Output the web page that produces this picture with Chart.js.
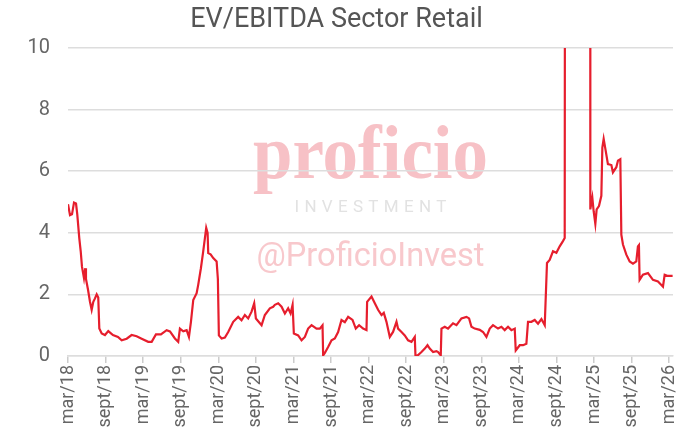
<!DOCTYPE html>
<html lang="en">
<head>
  <meta charset="UTF-8">
  <title>EV/EBITDA Sector Retail</title>
  <script src="https://cdn.jsdelivr.net/npm/chart.js"></script>
  <style>
    body { margin: 0; background: #fff; }
    #wrap { width: 686px; height: 436px; }
  </style>
</head>
<body>
  <div id="wrap"><canvas id="chart"></canvas></div>
  <script>
    // months since mar/18
    const months = [
      0, 0.32, 0.64, 0.96, 1.28, 1.48, 1.8, 2.03, 2.23, 2.55, 2.76, 2.87, 3.19, 3.51, 3.78, 4.04, 4.31, 4.58, 4.83,
      5.0, 5.38, 5.9, 6.43, 7.18, 7.98, 8.57, 9.37, 10.16, 10.96, 11.76, 12.81, 13.36, 14.04, 14.84, 15.75, 16.28,
      17.07, 17.6, 17.87, 18.4, 18.94, 19.31, 19.63, 20.0, 20.54, 20.79, 21.22, 21.59, 21.86, 22.07, 22.29, 22.39,
      22.77, 23.19, 23.73, 23.93, 24.09, 24.53, 25.05, 25.58, 26.38, 27.17, 27.71, 28.24, 28.77, 29.31, 29.73, 30.0,
      30.91, 31.43, 32.23, 32.76, 33.03, 33.56, 34.1, 34.63, 35.15, 35.54, 35.86, 36.06, 36.75, 37.29, 37.82, 38.34,
      38.89, 39.68, 40.21, 40.64, 40.74, 41.01, 41.53, 42.08, 42.6, 43.13, 43.67, 44.2, 44.73, 45.43, 45.95, 46.48,
      47.12, 47.66, 47.76, 48.46, 48.99, 49.51, 50.06, 50.42, 50.85, 51.38, 51.9, 52.45, 52.7, 53.25, 53.77, 54.3,
      54.84, 55.37, 55.48, 55.9, 56.44, 56.97, 57.4, 57.76, 58.29, 58.83, 59.09, 59.52, 59.63, 60.16, 60.68, 61.48,
      62.03, 62.82, 63.62, 64.04, 64.42, 64.94, 65.74, 66.27, 66.81, 67.34, 67.86, 68.66, 69.2, 69.73, 70.26, 70.8,
      71.33, 71.49, 72.13, 72.66, 73.19, 73.45, 73.99, 74.52, 75.05, 75.59, 76.12, 76.48, 76.91, 77.44, 77.98, 78.51,
      79.03, 79.31, 79.39, 83.38, 83.4, 83.72, 83.93, 84.2, 84.41, 84.78, 85.16, 85.32, 85.53, 85.85, 86.21, 86.76,
      87.01, 87.55, 87.81, 88.19, 88.35, 88.61, 89.15, 89.68, 90.21, 90.74, 91.0, 91.16, 91.27, 91.8, 92.6, 93.4,
      94.2, 95.0, 95.27, 95.8, 96.54
    ];
    const evEbitda = [
      4.93, 4.57, 4.6, 4.98, 4.95, 4.6, 3.83, 3.4, 2.9, 2.53, 2.85, 2.5, 2.16, 1.76, 1.5, 1.76, 1.87, 2.0, 1.9,
      0.89, 0.73, 0.68, 0.81, 0.68, 0.62, 0.51, 0.56, 0.68, 0.64, 0.56, 0.46, 0.46, 0.7, 0.7, 0.84, 0.8,
      0.57, 0.46, 0.89, 0.8, 0.84, 0.62, 1.11, 1.82, 2.04, 2.31, 2.85, 3.4, 3.83, 4.16, 4.0, 3.34,
      3.3, 3.18, 3.07, 2.5, 0.67, 0.57, 0.6, 0.78, 1.11, 1.27, 1.16, 1.33, 1.22, 1.44, 1.71, 1.22,
      1.0, 1.33, 1.55, 1.6, 1.66, 1.71, 1.6, 1.38, 1.55, 1.38, 1.66, 0.73, 0.67, 0.51, 0.62, 0.89,
      1.0, 0.89, 0.89, 1.0, 0.02, 0.1, 0.29, 0.51, 0.57, 0.78, 1.17, 1.1, 1.27, 1.17, 0.89, 1.0,
      0.89, 0.84, 1.76, 1.93, 1.71, 1.5, 1.33, 1.4, 1.11, 0.62, 0.78, 1.11, 0.89, 0.78, 0.67, 0.51,
      0.46, 0.62, 0.0, 0.03, 0.13, 0.24, 0.35, 0.24, 0.13, 0.16, 0.13, 0.02, 0.89, 0.95, 0.89, 1.06,
      1.0, 1.22, 1.27, 1.22, 0.95, 0.89, 0.85, 0.78, 0.62, 0.89, 1.0, 0.89, 0.95, 0.84, 0.95, 0.84,
      0.89, 0.18, 0.35, 0.35, 0.4, 1.11, 1.11, 1.17, 1.05, 1.2, 1.0, 3.02, 3.12, 3.4, 3.35, 3.56,
      3.73, 3.83, 25, 25, 4.76, 5.14, 4.7, 4.29, 4.76, 4.87, 5.2, 6.77, 7.05, 6.67, 6.23, 6.2,
      5.96, 6.13, 6.34, 6.39, 3.94, 3.62, 3.29, 3.07, 3.0, 3.07, 3.56, 3.6, 2.47, 2.64, 2.69, 2.47,
      2.42, 2.25, 2.64, 2.6, 2.6
    ];
    const tickMonths = [0, 6, 12, 18, 24, 30, 36, 42, 48, 54, 60, 66, 72, 78, 84, 90, 96];
    const tickLabels = ["mar/18", "sept/18", "mar/19", "sept/19", "mar/20", "sept/20", "mar/21", "sept/21",
      "mar/22", "sept/22", "mar/23", "sept/23", "mar/24", "sept/24", "mar/25", "sept/25", "mar/26"];

    const points = months.map((m, i) => ({ x: m, y: evEbitda[i] }));

    // white background + watermark, behind the grid and the line
    const watermark = {
      id: "watermark",
      beforeDraw(chart) {
        const ctx = chart.ctx;
        const area = chart.chartArea;
        const cx = (area.left + area.right) / 2;
        const cy = (area.top + area.bottom) / 2;
        ctx.save();
        ctx.fillStyle = "#fff";
        ctx.fillRect(0, 0, chart.width, chart.height);
        ctx.textAlign = "center";
        ctx.textBaseline = "alphabetic";

        // proficio
        ctx.font = "bold 76px 'Liberation Serif'";
        let w = ctx.measureText("proficio").width;
        ctx.save();
        ctx.translate(cx, cy - 24);
        ctx.scale(235 / w, 1);
        ctx.fillStyle = "#f7c1c6";
        ctx.fillText("proficio", 0, 0);
        ctx.restore();

        // INVESTMENT, spaced out
        ctx.font = "17px Roboto";
        ctx.fillStyle = "#e2e2e2";
        ctx.textAlign = "left";
        const word = "INVESTMENT";
        const widths = [...word].map(c => ctx.measureText(c).width);
        const total = 152;
        const gap = (total - widths.reduce((a, b) => a + b, 0)) / (word.length - 1);
        let x = cx - total / 2;
        [...word].forEach((c, i) => {
          ctx.fillText(c, x, cy + 10);
          x += widths[i] + gap;
        });

        // @ProficioInvest
        ctx.textAlign = "center";
        ctx.font = "33px Roboto";
        w = ctx.measureText("@ProficioInvest").width;
        ctx.save();
        ctx.translate(cx, cy + 64);
        ctx.scale(228 / w, 1);
        ctx.fillStyle = "#f8c8cc";
        ctx.fillText("@ProficioInvest", 0, 0);
        ctx.restore();
        ctx.restore();
      }
    };

    new Chart(document.getElementById("chart"), {
      type: "line",
      data: {
        datasets: [{
          data: points,
          borderColor: "#e61e2d",
          borderWidth: 2.2,
          pointRadius: 0,
          tension: 0
        }]
      },
      options: {
        responsive: true,
        maintainAspectRatio: false,
        animation: false,
        layout: { padding: { left: 0, right: 13, top: 0, bottom: 0 } },
        plugins: {
          legend: { display: false },
          tooltip: { enabled: false },
          title: {
            display: true,
            text: "EV/EBITDA Sector Retail",
            color: "#555",
            font: { family: "Roboto", size: 27, weight: "normal", lineHeight: 1.2 },
            padding: { top: 4, bottom: 11.6 }
          }
        },
        scales: {
          x: {
            type: "linear",
            min: 0,
            max: 96.6,
            afterBuildTicks: (scale) => {
              scale.ticks = tickMonths.map(v => ({ value: v }));
            },
            afterFit: (scale) => {
              scale.height = 80;
              scale.paddingLeft = 0;
              scale.paddingRight = 0;
            },
            grid: { drawOnChartArea: false, drawTicks: true, tickLength: 7, color: "#ccc", lineWidth: 1.5 },
            border: { display: true, color: "#ddd", width: 1.5 },
            ticks: {
              autoSkip: false,
              minRotation: 90,
              maxRotation: 90,
              padding: 2,
              color: "#666",
              font: { family: "Roboto", size: 18 },
              callback: (v) => tickLabels[tickMonths.indexOf(v)]
            }
          },
          y: {
            min: 0,
            max: 10,
            afterFit: (scale) => { scale.width = 68; },
            grid: { drawTicks: false, color: "#ddd", lineWidth: 1.5 },
            border: { display: false },
            ticks: {
              stepSize: 2,
              padding: 18,
              color: "#666",
              font: { family: "Roboto", size: 20 }
            }
          }
        }
      },
      plugins: [watermark]
    });
  </script>
</body>
</html>
